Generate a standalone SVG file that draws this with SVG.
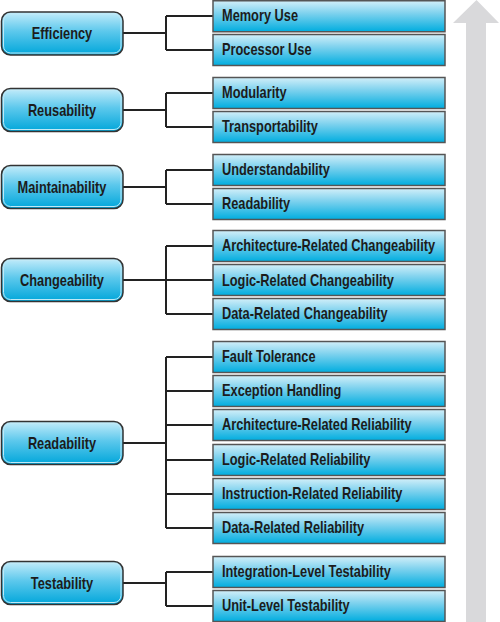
<svg xmlns="http://www.w3.org/2000/svg" width="500" height="622" viewBox="0 0 500 622">
<defs>
<linearGradient id="gl" x1="0" y1="0" x2="0" y2="1">
<stop offset="0" stop-color="#c4ecfa"/><stop offset="0.45" stop-color="#5cc8ec"/><stop offset="1" stop-color="#00a6da"/>
</linearGradient>
<linearGradient id="gr" x1="0" y1="0" x2="0" y2="1">
<stop offset="0" stop-color="#d2eff9"/><stop offset="0.4" stop-color="#7fd2ee"/><stop offset="1" stop-color="#00addf"/>
</linearGradient>
</defs>
<style>
.l{fill:url(#gl);stroke:#333;stroke-width:1.5}
.li{fill:none;stroke:#bfe9f7;stroke-width:1}
.r{fill:url(#gr);stroke:#555;stroke-width:1.5}
.t{font-family:"Liberation Sans",Arial,sans-serif;font-weight:bold;font-size:16px;fill:#1c1c1c}
.c{fill:none;stroke:#222;stroke-width:2}
</style>
<polygon id="arrow" points="476.5,0 499,23 486,23 486,622 466,622 466,23 453,23" fill="#d9d9db"/>
<g id="connectors" class="c">
<path d="M123,33H166M166,16V50M166,16H213M166,50H213"/>
<path d="M123,110H166M166,93V127M166,93H213M166,127H213"/>
<path d="M123,187H166M166,170V204M166,170H213M166,204H213"/>
<path d="M123,280H166M166,246V314M166,246H213M166,280H213M166,314H213"/>
<path d="M123,443H166M166,357V528M166,357H213M166,391H213M166,425H213M166,460H213M166,494H213M166,528H213"/>
<path d="M123,583H166M166,572V606M166,572H213M166,606H213"/>
</g>
<g id="n-efficiency"><rect class="l" x="1.5" y="12" width="121.5" height="43" rx="9"/><rect class="li" x="3.5" y="14" width="117.5" height="39" rx="7"/><text class="t" transform="scale(0.8 1)" x="77.5" y="39" text-anchor="middle">Efficiency</text></g>
<g id="n-reusability"><rect class="l" x="1.5" y="88.5" width="121.5" height="43" rx="9"/><rect class="li" x="3.5" y="90.5" width="117.5" height="39" rx="7"/><text class="t" transform="scale(0.8 1)" x="77.5" y="116" text-anchor="middle">Reusability</text></g>
<g id="n-maintainability"><rect class="l" x="1.5" y="165.5" width="121.5" height="43" rx="9"/><rect class="li" x="3.5" y="167.5" width="117.5" height="39" rx="7"/><text class="t" transform="scale(0.8 1)" x="77.5" y="193" text-anchor="middle">Maintainability</text></g>
<g id="n-changeability"><rect class="l" x="1.5" y="258.5" width="121.5" height="43" rx="9"/><rect class="li" x="3.5" y="260.5" width="117.5" height="39" rx="7"/><text class="t" transform="scale(0.8 1)" x="77.5" y="286" text-anchor="middle">Changeability</text></g>
<g id="n-readability"><rect class="l" x="1.5" y="421.5" width="121.5" height="43" rx="9"/><rect class="li" x="3.5" y="423.5" width="117.5" height="39" rx="7"/><text class="t" transform="scale(0.8 1)" x="77.5" y="449" text-anchor="middle">Readability</text></g>
<g id="n-testability"><rect class="l" x="1.5" y="561.5" width="121.5" height="43" rx="9"/><rect class="li" x="3.5" y="563.5" width="117.5" height="39" rx="7"/><text class="t" transform="scale(0.8 1)" x="77.5" y="589" text-anchor="middle">Testability</text></g>
<g id="n-memory"><rect class="r" x="213" y="0.75" width="232" height="31"/><text class="t" transform="scale(0.8 1)" x="277.5" y="21.5">Memory Use</text></g>
<g id="n-processor"><rect class="r" x="213" y="34.5" width="232" height="31"/><text class="t" transform="scale(0.8 1)" x="277.5" y="55.5">Processor Use</text></g>
<g id="n-modularity"><rect class="r" x="213" y="77.5" width="232" height="31"/><text class="t" transform="scale(0.8 1)" x="277.5" y="98.5">Modularity</text></g>
<g id="n-transport"><rect class="r" x="213" y="111.5" width="232" height="31"/><text class="t" transform="scale(0.8 1)" x="277.5" y="132.5">Transportability</text></g>
<g id="n-understand"><rect class="r" x="213" y="154.5" width="232" height="31"/><text class="t" transform="scale(0.8 1)" x="277.5" y="175.5">Understandability</text></g>
<g id="n-readab"><rect class="r" x="213" y="188.5" width="232" height="31"/><text class="t" transform="scale(0.8 1)" x="277.5" y="209.5">Readability</text></g>
<g id="n-archch"><rect class="r" x="213" y="230.5" width="232" height="31"/><text class="t" transform="scale(0.8 1)" x="277.5" y="251.5">Architecture-Related Changeability</text></g>
<g id="n-logicch"><rect class="r" x="213" y="264.5" width="232" height="31"/><text class="t" transform="scale(0.8 1)" x="277.5" y="285.5">Logic-Related Changeability</text></g>
<g id="n-datach"><rect class="r" x="213" y="298.5" width="232" height="31"/><text class="t" transform="scale(0.8 1)" x="277.5" y="319.5">Data-Related Changeability</text></g>
<g id="n-fault"><rect class="r" x="213" y="341.5" width="232" height="31"/><text class="t" transform="scale(0.8 1)" x="277.5" y="362.5">Fault Tolerance</text></g>
<g id="n-exception"><rect class="r" x="213" y="375.5" width="232" height="31"/><text class="t" transform="scale(0.8 1)" x="277.5" y="396.5">Exception Handling</text></g>
<g id="n-archrel"><rect class="r" x="213" y="409.5" width="232" height="31"/><text class="t" transform="scale(0.8 1)" x="277.5" y="430.5">Architecture-Related Reliability</text></g>
<g id="n-logicrel"><rect class="r" x="213" y="444.5" width="232" height="31"/><text class="t" transform="scale(0.8 1)" x="277.5" y="465.5">Logic-Related Reliability</text></g>
<g id="n-instrrel"><rect class="r" x="213" y="478.5" width="232" height="31"/><text class="t" transform="scale(0.8 1)" x="277.5" y="499.5">Instruction-Related Reliability</text></g>
<g id="n-datarel"><rect class="r" x="213" y="512.5" width="232" height="31"/><text class="t" transform="scale(0.8 1)" x="277.5" y="533.5">Data-Related Reliability</text></g>
<g id="n-integration"><rect class="r" x="213" y="556.5" width="232" height="31"/><text class="t" transform="scale(0.8 1)" x="277.5" y="577.5">Integration-Level Testability</text></g>
<g id="n-unit"><rect class="r" x="213" y="590.5" width="232" height="31"/><text class="t" transform="scale(0.8 1)" x="277.5" y="611.5">Unit-Level Testability</text></g>
</svg>
